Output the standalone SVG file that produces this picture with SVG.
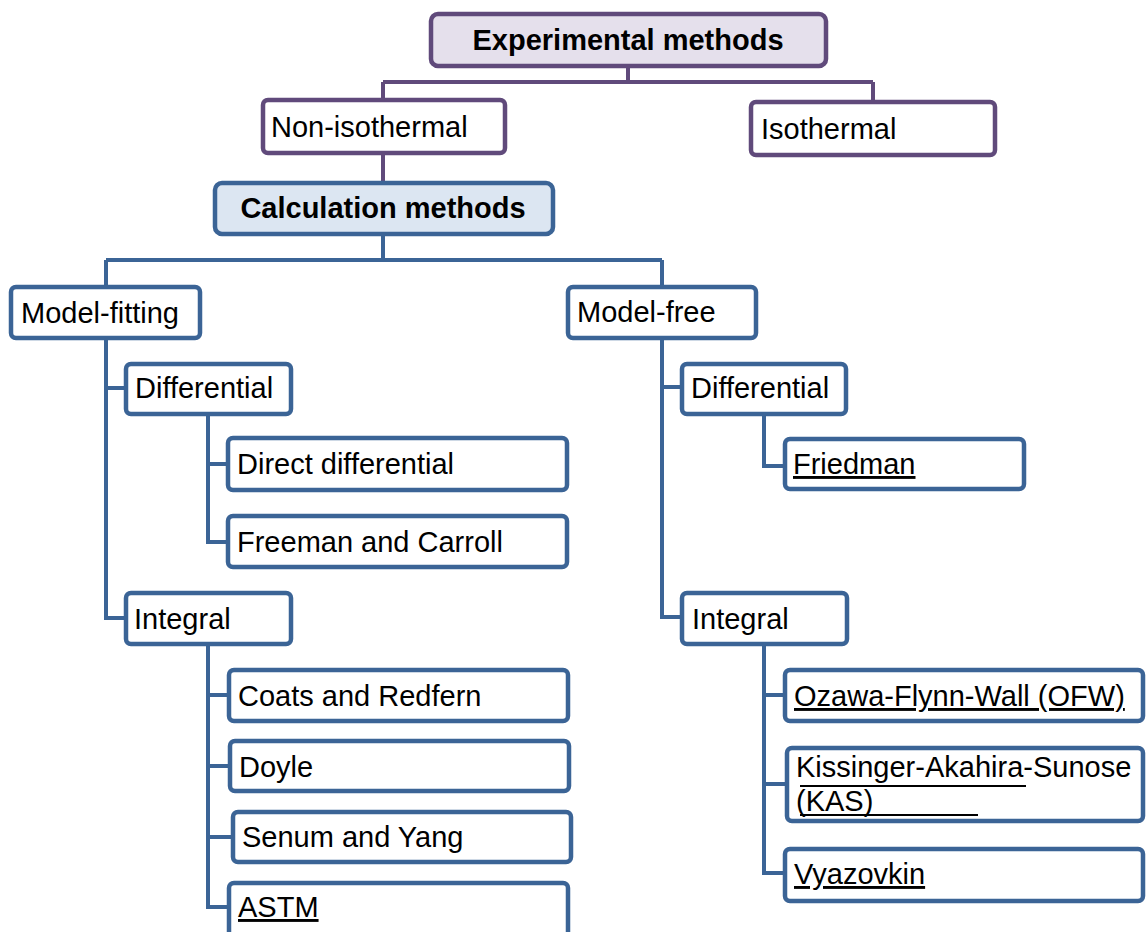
<svg xmlns="http://www.w3.org/2000/svg" width="1146" height="932" viewBox="0 0 1146 932">
<style>
  text { font-family: "Liberation Sans", Arial, sans-serif; font-size: 29px; fill: #000; }
  .b { font-weight: bold; }
  .u { text-decoration: underline; }
  .pbox { fill: #fff; stroke: #604a7b; stroke-width: 4.5; }
  .ptop { fill: #e5e0ec; stroke: #604a7b; stroke-width: 4.5; }
  .bbox { fill: #fff; stroke: #3b6496; stroke-width: 4.5; }
  .btop { fill: #dce6f2; stroke: #3b6496; stroke-width: 4.5; }
  .pc { fill: none; stroke: #604a7b; stroke-width: 4; }
  .bc { fill: none; stroke: #3b6496; stroke-width: 4; }
  .ul { stroke: #000; stroke-width: 2; }
</style>
<rect width="1146" height="932" fill="#fff"/>
<g id="connectors">
  <path class="pc" d="M628,66 V82 M383,82 H873 M383,82 V100 M873,82 V102 M383,153 V183"/>
  <path class="bc" d="M383,234 V260 M106,260 H662 M106,260 V287 M662,260 V287"/>
  <path class="bc" d="M106,338 V618 H126 M106,388 H126"/>
  <path class="bc" d="M208,414 V542 H228 M208,464 H228"/>
  <path class="bc" d="M208,644 V907 H229 M208,695 H229 M208,766 H230 M208,837 H233"/>
  <path class="bc" d="M662,338 V617 H682 M662,387 H682"/>
  <path class="bc" d="M764,414 V466 H785"/>
  <path class="bc" d="M764,644 V873 H785 M764,695 H785 M764,784 H787"/>
</g>
<g id="experimental">
  <rect class="ptop" x="431" y="14" width="395" height="52" rx="7"/>
  <text class="b" x="628" y="50" text-anchor="middle">Experimental methods</text>
</g>
<g id="non-isothermal">
  <rect class="pbox" x="263" y="100" width="242" height="53" rx="5"/>
  <text x="271" y="137">Non-isothermal</text>
</g>
<g id="isothermal">
  <rect class="pbox" x="751" y="102" width="244" height="53" rx="5"/>
  <text x="761" y="139">Isothermal</text>
</g>
<g id="calculation">
  <rect class="btop" x="215" y="183" width="338" height="51" rx="7"/>
  <text class="b" x="383" y="218" text-anchor="middle">Calculation methods</text>
</g>
<g id="model-fitting">
  <rect class="bbox" x="11" y="287" width="189" height="51" rx="5"/>
  <text x="21" y="323">Model-fitting</text>
</g>
<g id="model-free">
  <rect class="bbox" x="568" y="287" width="188" height="51" rx="5"/>
  <text x="577" y="322">Model-free</text>
</g>
<g id="mfit-differential">
  <rect class="bbox" x="126" y="364" width="165" height="50" rx="5"/>
  <text x="135" y="398">Differential</text>
</g>
<g id="mfree-differential">
  <rect class="bbox" x="682" y="364" width="164" height="50" rx="5"/>
  <text x="691" y="398">Differential</text>
</g>
<g id="direct-differential">
  <rect class="bbox" x="228" y="438" width="339" height="52" rx="5"/>
  <text x="237" y="474">Direct differential</text>
</g>
<g id="freeman-carroll">
  <rect class="bbox" x="228" y="516" width="339" height="51" rx="5"/>
  <text x="237" y="552">Freeman and Carroll</text>
</g>
<g id="mfit-integral">
  <rect class="bbox" x="126" y="593" width="165" height="51" rx="5"/>
  <text x="134" y="629">Integral</text>
</g>
<g id="mfree-integral">
  <rect class="bbox" x="682" y="593" width="165" height="51" rx="5"/>
  <text x="692" y="629">Integral</text>
</g>
<g id="coats-redfern">
  <rect class="bbox" x="229" y="670" width="339" height="51" rx="5"/>
  <text x="238" y="706">Coats and Redfern</text>
</g>
<g id="doyle">
  <rect class="bbox" x="230" y="741" width="339" height="50" rx="5"/>
  <text x="239" y="777">Doyle</text>
</g>
<g id="senum-yang">
  <rect class="bbox" x="233" y="812" width="338" height="50" rx="5"/>
  <text x="242" y="847">Senum and Yang</text>
</g>
<g id="astm">
  <rect class="bbox" x="229" y="883" width="339" height="70" rx="5"/>
  <text class="u" x="238" y="917">ASTM</text>
</g>
<g id="friedman">
  <rect class="bbox" x="785" y="439" width="239" height="50" rx="5"/>
  <text class="u" x="793" y="474">Friedman</text>
</g>
<g id="ofw">
  <rect class="bbox" x="785" y="670" width="358" height="51" rx="5"/>
  <text class="u" x="794" y="706">Ozawa-Flynn-Wall (OFW)</text>
</g>
<g id="kas">
  <rect class="bbox" x="787" y="748" width="356" height="73" rx="5"/>
  <text x="796" y="777">Kissinger-Akahira-Sunose</text>
  <text x="796" y="811">(KAS)</text>
  <line class="ul" x1="800" y1="786" x2="1026" y2="786"/>
  <line class="ul" x1="800" y1="815" x2="978" y2="815"/>
</g>
<g id="vyazovkin">
  <rect class="bbox" x="785" y="849" width="358" height="52" rx="5"/>
  <text class="u" x="794" y="884">Vyazovkin</text>
</g>
</svg>
